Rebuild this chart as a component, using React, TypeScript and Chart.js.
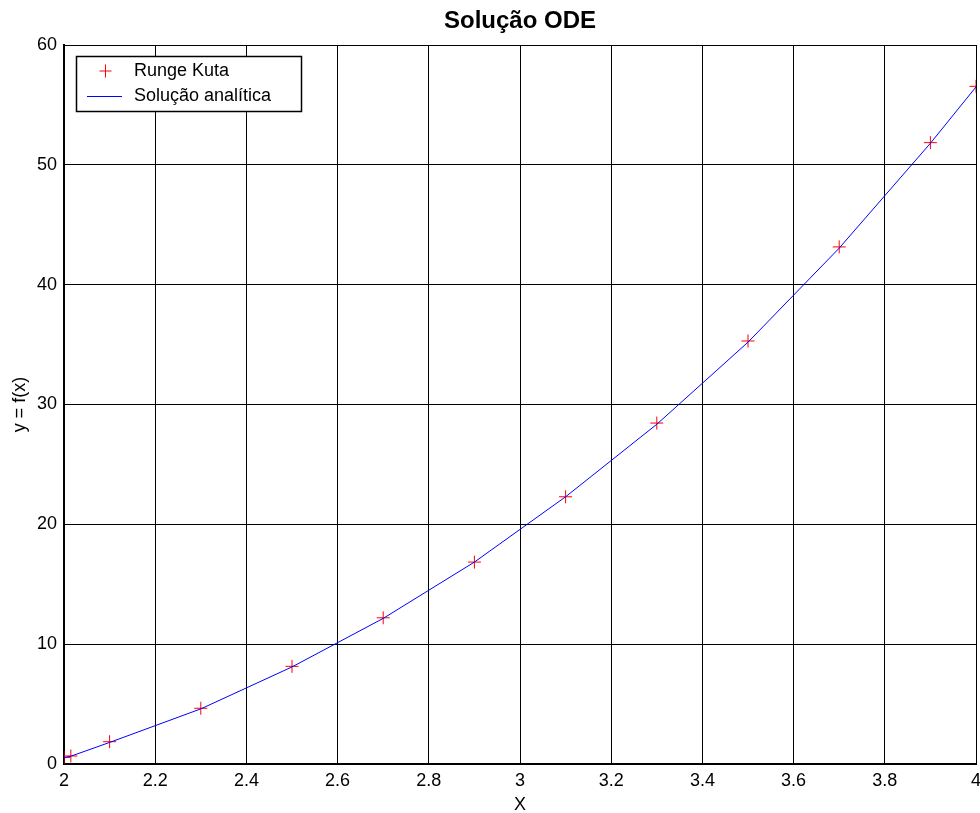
import { useEffect, useRef } from "react";
import { Chart, registerables } from "chart.js";

Chart.register(...registerables);

// Sample points (x) and the two solutions at those points
const xValues = [2.0, 2.015, 2.1, 2.3, 2.5, 2.7, 2.9, 3.1, 3.3, 3.5, 3.7, 3.9, 4.0];
const rungeKutta = [0.55, 0.67, 1.86, 4.65, 8.15, 12.2, 16.85, 22.3, 28.45, 35.3, 43.15, 51.85, 56.55];
const analytic = [0.53, 0.65, 1.8, 4.6, 8.1, 12.15, 16.85, 22.3, 28.35, 35.2, 43.05, 51.8, 56.5];

const xTicks = [2, 2.2, 2.4, 2.6, 2.8, 3, 3.2, 3.4, 3.6, 3.8, 4];
const yTicks = [0, 10, 20, 30, 40, 50, 60];

const seriesLabels = ["Runge Kuta", "Solução analítica"];
const titleText = "Solução ODE";
const xTitle = "X";
const yTitle = "y = f(x)";

const FONT = "'Liberation Sans', Arial, Helvetica, sans-serif";
const RED = "rgb(255,0,0)";
const BLUE = "rgb(0,0,255)";

const fmt = (v: number) => String(Number(v.toFixed(2)));

// Keep the outer tick labels from pushing the plot area inwards
const noEdgePadding = (s: any) => {
  s.paddingLeft = 0;
  s.paddingRight = 0;
  s.paddingTop = 0;
  s.paddingBottom = 0;
};

// Legend drawn inside the plot area, top-left corner
const insetLegend = {
  id: "insetLegend",
  afterDraw(chart: any) {
    const { ctx, chartArea } = chart;
    const x0 = chartArea.left + 12;
    const y0 = chartArea.top + 11;
    const w = 225;
    const h = 55;
    ctx.save();
    ctx.globalAlpha = 1;
    ctx.fillStyle = "#fff";
    ctx.fillRect(x0, y0, w, h);
    ctx.strokeStyle = "#000";
    ctx.lineWidth = 1.5;
    ctx.strokeRect(x0 + 0.5, y0 + 0.5, w, h);

    // marker sample, same cross shape as the plotted points
    const mx = x0 + 29.5;
    const my = y0 + 15;
    ctx.strokeStyle = RED;
    ctx.lineWidth = 1;
    ctx.beginPath();
    ctx.moveTo(mx - 6, my);
    ctx.lineTo(mx + 6, my);
    ctx.moveTo(mx, my - 6.5);
    ctx.lineTo(mx, my + 6.5);
    ctx.stroke();

    // line sample
    ctx.strokeStyle = BLUE;
    ctx.beginPath();
    ctx.moveTo(x0 + 11, y0 + 40.5);
    ctx.lineTo(x0 + 46, y0 + 40.5);
    ctx.stroke();

    ctx.fillStyle = "#000";
    ctx.font = `18px ${FONT}`;
    ctx.textBaseline = "alphabetic";
    ctx.textAlign = "left";
    ctx.fillText(seriesLabels[0], x0 + 58, y0 + 20);
    ctx.fillText(seriesLabels[1], x0 + 58, y0 + 45);
    ctx.restore();
  },
};

export default function App() {
  const canvasRef = useRef<HTMLCanvasElement | null>(null);

  useEffect(() => {
    const canvas = canvasRef.current;
    if (!canvas) return;
    Chart.defaults.font.family = FONT;
    Chart.defaults.color = "#000";

    const chart = new Chart(canvas, {
      type: "scatter",
      data: {
        datasets: [
          {
            label: seriesLabels[1],
            data: xValues.map((x, i) => ({ x, y: analytic[i] })),
            showLine: true,
            borderColor: BLUE,
            borderWidth: 1,
            pointRadius: 0,
            tension: 0,
            order: 0,
          },
          {
            label: seriesLabels[0],
            data: xValues.map((x, i) => ({ x, y: rungeKutta[i] })),
            showLine: false,
            pointStyle: "cross",
            pointRadius: 6.5,
            pointBorderColor: RED,
            borderColor: RED,
            pointBorderWidth: 1,
            clip: 0,
            order: 1,
          } as any,
        ],
      },
      options: {
        animation: false,
        responsive: false,
        devicePixelRatio: 1,
        events: [],
        layout: { autoPadding: false, padding: { top: 0, right: 4, bottom: 0, left: 0 } },
        plugins: {
          legend: { display: false },
          tooltip: { enabled: false },
          title: {
            display: true,
            text: titleText,
            fullSize: false,
            color: "#000",
            font: { size: 24, weight: "bold", family: FONT },
            padding: { top: 6.6, bottom: 9.6 },
          },
        },
        scales: {
          x: {
            type: "linear",
            min: 2,
            max: 4,
            afterBuildTicks: (s: any) => {
              s.ticks = xTicks.map((v) => ({ value: v }));
            },
            afterFit: (s: any) => {
              s.height = 49;
              noEdgePadding(s);
            },
            ticks: {
              color: "#000",
              font: { size: 18, family: FONT },
              padding: 6,
              maxRotation: 0,
              autoSkip: false,
              callback: (v: any) => fmt(Number(v)),
            },
            grid: { color: "#000", lineWidth: 1, drawTicks: false },
            border: { display: true, color: "#000", width: 2 },
            title: {
              display: true,
              text: xTitle,
              color: "#000",
              font: { size: 18, family: FONT },
              padding: { top: 0, bottom: -3 },
            },
          },
          y: {
            type: "linear",
            min: 0,
            max: 60,
            afterBuildTicks: (s: any) => {
              s.ticks = yTicks.map((v) => ({ value: v }));
            },
            afterFit: (s: any) => {
              s.width = 64;
              noEdgePadding(s);
            },
            ticks: {
              color: "#000",
              font: { size: 18, family: FONT },
              padding: 7,
              autoSkip: false,
              callback: (v: any) => fmt(Number(v)),
            },
            grid: { color: "#000", lineWidth: 1, drawTicks: false },
            border: { display: true, color: "#000", width: 2 },
            title: {
              display: true,
              text: yTitle,
              color: "#000",
              font: { size: 18, family: FONT },
              padding: { top: 9, bottom: 0 },
            },
          },
        },
      },
      plugins: [insetLegend],
    });

    return () => chart.destroy();
  }, []);

  return (
    <div style={{ position: "absolute", left: 0, top: 0, width: 980, height: 813, background: "#fff" }}>
      <canvas ref={canvasRef} width={980} height={813} style={{ display: "block", width: 980, height: 813 }} />
    </div>
  );
}
